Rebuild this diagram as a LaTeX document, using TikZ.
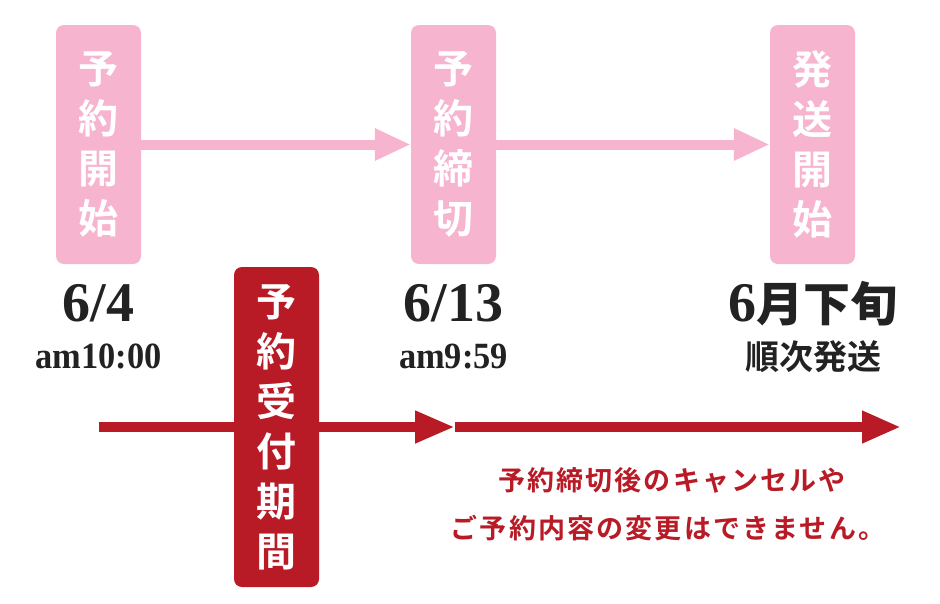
\documentclass[tikz,border=0pt]{standalone}
\usepackage{fontspec}
\setmainfont{Liberation Serif}
\newfontfamily\jpfont{Noto Sans CJK JP Bold}
\usetikzlibrary{arrows.meta}
\definecolor{sakura}{HTML}{F6B4CF}
\definecolor{beni}{HTML}{B81B26}
\definecolor{sumi}{HTML}{222222}
\begin{document}
\begin{tikzpicture}[x=1pt,y=-1pt,
	stepbox/.style={rounded corners=8pt,minimum width=85pt,inner sep=0pt,text=white,align=center,
		font=\jpfont\fontsize{40}{50}\selectfont},
	datelbl/.style={anchor=base,text=sumi,inner sep=0pt,font=\bfseries\fontsize{56}{56}\selectfont},
	timelbl/.style={anchor=base,text=sumi,inner sep=0pt,xscale=0.93,font=\bfseries\fontsize{37}{37}\selectfont},
	notelbl/.style={anchor=base,text=beni,inner sep=0pt,font=\jpfont\fontsize{27}{27}\selectfont\addfontfeature{LetterSpace=8}}]
	\useasboundingbox (0,0) rectangle (940,603);
	% pink steps
	\node[stepbox,fill=sakura,minimum height=239pt] (start) at (98.5,144.5) {予\\約\\開\\始};
	\node[stepbox,fill=sakura,minimum height=239pt] (close) at (453.5,144.5) {予\\約\\締\\切};
	\node[stepbox,fill=sakura,minimum height=239pt] (ship) at (812.5,144.5) {発\\送\\開\\始};
	\draw[sakura,line width=10pt,-{Triangle[length=36pt,width=30pt]}] (start)--(close);
	\draw[sakura,line width=10pt,-{Triangle[length=36pt,width=30pt]}] (close)--(ship);
	% dates
	\node[datelbl] (d1) at (98.5,321) {6/4};
	\node[timelbl] (t1) at (98.5,368) {am10:00};
	\node[datelbl] (d2) at (453.5,321) {6/13};
	\node[timelbl] (t2) at (453.5,368) {am9:59};
	\node[datelbl] (d3) at (813,321) {6{\jpfont\fontsize{47}{47}\selectfont 月下旬}};
	\node[anchor=base,text=sumi,inner sep=0pt,font=\jpfont\fontsize{34}{34}\selectfont] (t3) at (813,369) {順次発送};
	% red period
	\coordinate (rs) at (99,427);
	\coordinate (rm) at (455,427);
	\coordinate (re) at (901,427);
	\draw[beni,line width=10pt,-{Triangle[length=40pt,width=30pt]}] (rs)--(rm);
	\draw[beni,line width=10pt,-{Triangle[length=39pt,width=30pt]}] (rm)--(re);
	\node[stepbox,fill=beni,minimum height=320pt] (period) at (276.5,427) {予\\約\\受\\付\\期\\間};
	\node[notelbl] (n1) at (672,490) {予約締切後のキャンセルや};
	\node[notelbl] (n2) at (668,538) {ご予約内容の変更はできません。};
\end{tikzpicture}
\end{document}
